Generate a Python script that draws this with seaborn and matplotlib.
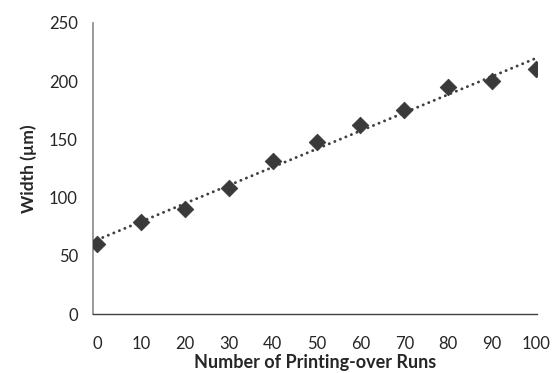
import numpy as np
import pandas as pd
import matplotlib
matplotlib.use("Agg")
import matplotlib.pyplot as plt
import seaborn as sns

# data
runs = [0, 10, 20, 30, 40, 50, 60, 70, 80, 90, 100]
width_um = [60, 79, 90, 108, 131, 148, 162, 175, 195, 200, 210]
df = pd.DataFrame({"runs": runs, "width": width_um})

sns.set_style("white")
plt.rcParams["font.family"] = ["Lato", "DejaVu Sans"]

fig = plt.figure(figsize=(5.55, 3.73), dpi=100)
ax = fig.add_axes([0.168, 0.158, 0.8, 0.781])

# linear trendline (dotted)
sns.regplot(data=df, x="runs", y="width", scatter=False, ci=None, ax=ax,
            line_kws=dict(color="#404040", lw=2.1, linestyle=(0, (0.05, 2.0)),
                          dash_capstyle="round", solid_capstyle="round"))
sns.scatterplot(data=df, x="runs", y="width", marker="D", s=70,
                color="#3a3a3a", edgecolor="#3a3a3a", ax=ax, zorder=3)

ax.set_xlim(-0.9, 100.3)
ax.set_ylim(0, 250)
ax.set_xticks(range(0, 101, 10))
ax.set_yticks(range(0, 251, 50))
ax.tick_params(length=0, labelsize=12, colors="#262626")
ax.tick_params(axis="x", pad=16)
ax.tick_params(axis="y", pad=11)

for s in ["top", "right"]:
    ax.spines[s].set_visible(False)
ax.spines["left"].set_color("#8a8a8a")
ax.spines["bottom"].set_color("#404040")
ax.spines["left"].set_linewidth(1.2)
ax.spines["bottom"].set_linewidth(1.0)

ax.set_xlabel("Number of Printing-over Runs", fontsize=13, fontweight="bold", labelpad=1)
ax.set_ylabel("Width (µm)", fontsize=12.5, fontweight="bold", labelpad=9)

fig.savefig("out.png", dpi=100)
